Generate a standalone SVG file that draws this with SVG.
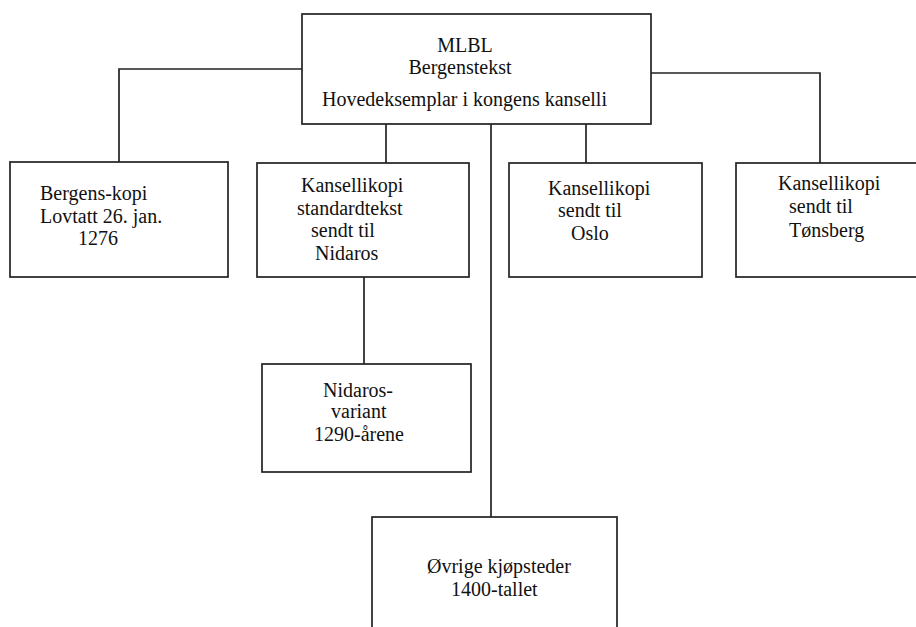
<svg xmlns="http://www.w3.org/2000/svg" width="916" height="627" viewBox="0 0 916 627">
<style>
rect{fill:#fff;stroke:#222;stroke-width:1.7}
.c line,.c polyline{fill:none;stroke:#222;stroke-width:1.7}
text{font-family:"Liberation Serif","Times New Roman",serif;font-size:20px;fill:#111}
</style>
<rect x="0" y="0" width="916" height="627" style="stroke:none"/>
<g class="c" id="connectors">
<polyline points="302,69 119,69 119,163"/>
<polyline points="651,73 820,73 820,163"/>
<line x1="386" y1="124" x2="386" y2="163"/>
<line x1="586" y1="124" x2="586" y2="163"/>
<line x1="491" y1="124" x2="491" y2="517"/>
<line x1="364" y1="277" x2="364" y2="364"/>
</g>
<g id="mlbl">
<rect x="302" y="14" width="349" height="110"/>
<text x="465" y="52" text-anchor="middle">MLBL</text>
<text x="460" y="74" text-anchor="middle">Bergenstekst</text>
<text x="322" y="106">Hovedeksemplar i kongens kanselli</text>
</g>
<g id="bergens">
<rect x="10" y="162" width="218" height="115"/>
<text x="40" y="200">Bergens-kopi</text>
<text x="40" y="223">Lovtatt 26. jan.</text>
<text x="78" y="245">1276</text>
</g>
<g id="nidaros">
<rect x="257" y="163" width="212" height="114"/>
<text x="301" y="192">Kansellikopi</text>
<text x="297" y="215">standardtekst</text>
<text x="311" y="237">sendt til</text>
<text x="315" y="260">Nidaros</text>
</g>
<g id="oslo">
<rect x="509" y="163" width="193" height="114"/>
<text x="548" y="195">Kansellikopi</text>
<text x="558" y="217">sendt til</text>
<text x="571" y="240">Oslo</text>
</g>
<g id="tonsberg">
<rect x="736" y="163" width="190" height="114"/>
<text x="778" y="190">Kansellikopi</text>
<text x="789" y="213">sendt til</text>
<text x="789" y="237">Tønsberg</text>
</g>
<g id="nidarosvariant">
<rect x="262" y="364" width="209" height="108"/>
<text x="323" y="397">Nidaros-</text>
<text x="331" y="418">variant</text>
<text x="314" y="441">1290-årene</text>
</g>
<g id="ovrige">
<rect x="372" y="517" width="245" height="130"/>
<text x="427" y="573">Øvrige kjøpsteder</text>
<text x="451" y="596">1400-tallet</text>
</g>
</svg>
